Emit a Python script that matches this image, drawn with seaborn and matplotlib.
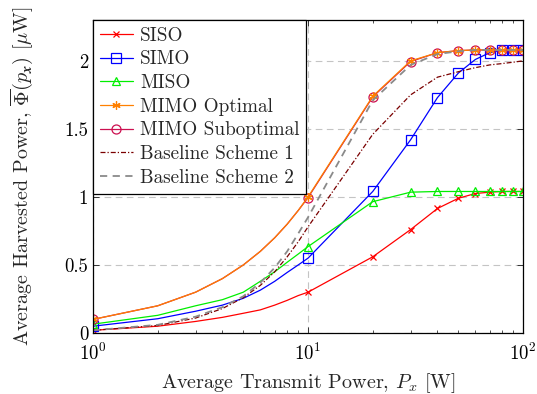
import numpy as np
import pandas as pd
import matplotlib
matplotlib.use("Agg")
import matplotlib.pyplot as plt
import matplotlib.ticker as mticker
import seaborn as sns

# --- data ---
px = [1, 2, 3, 4, 5, 6, 7, 8, 9, 10, 20, 30, 40, 50, 60, 70, 80, 90, 100]

siso = [0.02, 0.05, 0.085, 0.115, 0.145, 0.17, 0.205, 0.24, 0.275, 0.30,
        0.56, 0.76, 0.915, 0.99, 1.025, 1.035, 1.04, 1.04, 1.04]
simo = [0.05, 0.105, 0.16, 0.205, 0.255, 0.315, 0.38, 0.445, 0.50, 0.55,
        1.04, 1.42, 1.73, 1.91, 2.01, 2.06, 2.08, 2.08, 2.08]
miso = [0.065, 0.13, 0.20, 0.245, 0.30, 0.38, 0.45, 0.52, 0.58, 0.635,
        0.965, 1.035, 1.04, 1.04, 1.04, 1.04, 1.04, 1.04, 1.04]
mimo_opt = [0.10, 0.20, 0.30, 0.40, 0.50, 0.60, 0.70, 0.80, 0.90, 1.0,
            1.74, 2.0, 2.06, 2.075, 2.08, 2.08, 2.08, 2.08, 2.08]
mimo_sub = [0.10, 0.20, 0.30, 0.40, 0.50, 0.60, 0.70, 0.80, 0.90, 0.995,
            1.735, 1.995, 2.06, 2.075, 2.08, 2.08, 2.08, 2.08, 2.08]
base1 = [0.02, 0.055, 0.11, 0.18, 0.26, 0.35, 0.45, 0.56, 0.67, 0.78,
         1.46, 1.75, 1.88, 1.92, 1.95, 1.97, 1.98, 1.99, 2.0]
base2 = [0.02, 0.06, 0.12, 0.19, 0.27, 0.37, 0.48, 0.60, 0.73, 0.85,
         1.71, 1.97, 2.05, 2.07, 2.08, 2.08, 2.08, 2.08, 2.08]

labels = ["SISO", "SIMO", "MISO", "MIMO Optimal", "MIMO Suboptimal",
          "Baseline Scheme 1", "Baseline Scheme 2"]

# markers only at 1, 10, 20, ..., 100
mark_idx = [0] + list(range(9, len(px)))

sns.set_theme(style="ticks")
plt.rcParams["font.family"] = ["cmr10", "DejaVu Serif"]
plt.rcParams["mathtext.fontset"] = "cm"
plt.rcParams["axes.formatter.use_mathtext"] = True
plt.rcParams["font.size"] = 14

fig = plt.figure(figsize=(5.37, 3.94), dpi=100)
ax = fig.add_axes([0.1732, 0.1548, 0.974 - 0.1732, 0.9492 - 0.1548])

asterisk = (6, 2, 0)
series = [
    (siso, labels[0], "#ff0000", "x", "-", 5),
    (simo, labels[1], "#0000ff", "s", "-", 6.5),
    (miso, labels[2], "#00ee00", "^", "-", 6),
    (mimo_sub, labels[4], "#cc1050", "o", "-", 6.5),
    (mimo_opt, labels[3], "#ff8000", asterisk, "-", 6),
    (base1, labels[5], "#7a0000", None, (0, (4, 1.6, 1, 1.6)), 0),
    (base2, labels[6], "#8a8a8a", None, (0, (4, 3)), 0),
]

for ys, lab, col, mk, ls, ms in series:
    df = pd.DataFrame({"px": px, "val": ys})
    kw = dict(color=col, linewidth=0.9, linestyle=ls, label=lab)
    if mk is not None:
        kw.update(marker=mk, markersize=ms, markevery=mark_idx,
                  mec=col, mfc="none", mew=0.9)
    if lab == labels[6]:
        kw["linewidth"] = 1.3
    sns.lineplot(data=df, x="px", y="val", ax=ax, **kw)

ax.set_xscale("log")
ax.set_xlim(1, 100)
ax.set_ylim(0, 2.3)
ax.set_yticks([0, 0.5, 1, 1.5, 2])
ax.set_yticklabels(["0", "0.5", "1", "1.5", "2"])
ax.xaxis.set_major_locator(mticker.LogLocator(base=10))
ax.xaxis.set_minor_locator(mticker.LogLocator(base=10, subs=np.arange(2, 10)))
ax.xaxis.set_minor_formatter(mticker.NullFormatter())

ax.grid(True, which="major", color="#c4c4c4", linestyle=(0, (6, 4)), linewidth=0.8)
ax.tick_params(which="both", direction="in", top=True, right=True, colors="#333333",
               labelcolor="black", labelsize=13.5)
ax.tick_params(which="major", length=4.5, width=0.7)
ax.tick_params(axis="x", which="major", pad=7)
ax.tick_params(which="minor", length=2.5, width=0.6)
for s in ax.spines.values():
    s.set_color("black")
    s.set_linewidth(0.9)

ax.set_xlabel("Average Transmit Power, $P_x$ [W]", fontsize=14.5, labelpad=5)
ax.set_ylabel(r"Average Harvested Power, $\overline{\Phi}(p_{\boldsymbol{x}})$ [$\mu$W]",
              fontsize=14.5, labelpad=20)

handles, labs = ax.get_legend_handles_labels()
order = [labs.index(l) for l in labels]
leg = ax.legend([handles[i] for i in order], [labs[i] for i in order],
                loc="upper left", borderaxespad=0, fancybox=False, framealpha=1,
                edgecolor="black", fontsize=13.8, handlelength=1.75, handletextpad=0.35,
                labelspacing=0.3, borderpad=0.35)
leg.get_frame().set_linewidth(0.9)

fig.savefig("out.png", dpi=100)
